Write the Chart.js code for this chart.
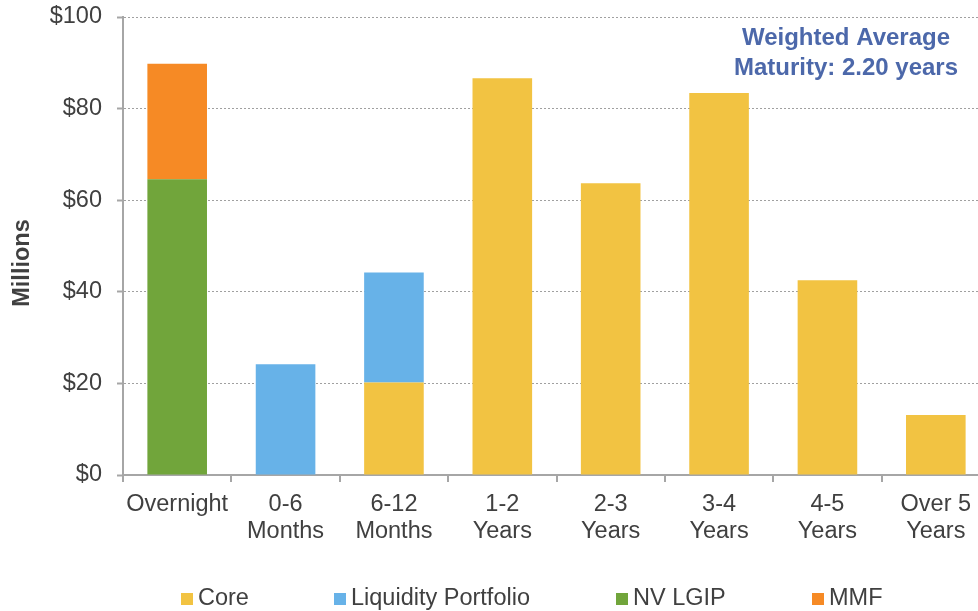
<!DOCTYPE html>
<html>
<head>
<meta charset="utf-8">
<script src="https://cdn.jsdelivr.net/npm/chart.js@4"></script>
<style>
  html, body { margin: 0; padding: 0; background: #fff; overflow: hidden; }
  #frame { width: 978px; height: 611px; overflow: hidden; position: relative; }
  #wrap { width: 992px; height: 611px; }
</style>
</head>
<body>
<div id="frame"><div id="wrap"><canvas id="c" width="992" height="611"></canvas></div></div>
<script>
// Maturity buckets (multi-line axis labels)
const categories = [
  ['Overnight'],
  ['0-6', 'Months'],
  ['6-12', 'Months'],
  ['1-2', 'Years'],
  ['2-3', 'Years'],
  ['3-4', 'Years'],
  ['4-5', 'Years'],
  ['Over 5', 'Years']
];

// Holdings per bucket, $ millions
const core      = [null, null, 20.2, 86.6, 63.7, 83.4, 42.5, 13.1];
const liquidity = [null, 24.2, 24.0, null, null, null, null, null];
const nvLgip    = [64.6, null, null, null, null, null, null, null];
const mmf       = [25.2, null, null, null, null, null, null, null];

const seriesNames = ['Core', 'Liquidity Portfolio', 'NV LGIP', 'MMF'];
const yTicks = [0, 20, 40, 60, 80, 100];
const axisTitle = 'Millions';
const noteLines = ['Weighted Average', 'Maturity: 2.20 years'];

const colors = ['#F2C342', '#67B2E8', '#71A53B', '#F68A25'];
const textColor = '#404040';
const font = 'Liberation Sans, Arial, Helvetica, sans-serif';

// Legend row, annotation box and rotated axis title
const extras = {
  id: 'extras',
  afterDraw(chart) {
    const ctx = chart.ctx;
    ctx.save();
    // legend
    const legendX = [181, 334, 616, 812];
    ctx.font = '23.5px ' + font;
    ctx.textBaseline = 'middle';
    ctx.textAlign = 'left';
    chart.data.datasets.forEach((ds, i) => {
      ctx.fillStyle = ds.backgroundColor;
      ctx.fillRect(legendX[i], 593, 12, 12);
      ctx.fillStyle = textColor;
      ctx.fillText(ds.label, legendX[i] + 17, 599);
    });
    // axis title
    ctx.save();
    ctx.translate(23, 263);
    ctx.rotate(-Math.PI / 2);
    ctx.font = 'bold 23.5px ' + font;
    ctx.textAlign = 'center';
    ctx.textBaseline = 'middle';
    ctx.fillStyle = textColor;
    ctx.fillText(axisTitle, 0, 0);
    ctx.restore();
    // weighted average note
    ctx.font = 'bold 24px ' + font;
    ctx.textAlign = 'center';
    ctx.textBaseline = 'alphabetic';
    ctx.fillStyle = '#4C68AA';
    ctx.fillText(noteLines[0], 846, 45);
    ctx.fillText(noteLines[1], 846, 75);
    ctx.restore();
  }
};

const seriesData = [core, liquidity, nvLgip, mmf];

new Chart(document.getElementById('c'), {
  type: 'bar',
  data: {
    labels: categories,
    datasets: seriesData.map((d, i) => ({
      label: seriesNames[i],
      data: d,
      backgroundColor: colors[i],
      borderWidth: 0,
      categoryPercentage: 1,
      barPercentage: 0.55
    }))
  },
  options: {
    responsive: false,
    animation: false,
    devicePixelRatio: 1,
    layout: { padding: { top: 17, right: 2, left: 0, bottom: 0 } },
    plugins: {
      legend: { display: false },
      tooltip: { enabled: false }
    },
    scales: {
      x: {
        stacked: true,
        offset: true,
        grid: {
          offset: true,
          drawOnChartArea: false,
          drawTicks: true,
          tickLength: 7,
          color: '#A6A6A6',
          lineWidth: 2
        },
        border: { color: '#A6A6A6', width: 2 },
        ticks: {
          color: textColor,
          font: { family: font, size: 23.5, lineHeight: 1.14 },
          padding: 9,
          maxRotation: 0,
          autoSkip: false
        },
        afterFit(scale) {
          scale.height = 136;
          scale.paddingLeft = 0;
          scale.paddingRight = 0;
        }
      },
      y: {
        stacked: true,
        min: 0,
        max: 100,
        afterBuildTicks(scale) { scale.ticks = yTicks.map(v => ({ value: v })); },
        grid: {
          color: '#A0A0A0',
          lineWidth: 1,
          drawTicks: true,
          tickLength: 6,
          tickBorderDash: [],
          tickColor: '#A6A6A6',
          tickWidth: 2
        },
        border: { color: '#A6A6A6', width: 2, dash: [2, 2] },
        ticks: {
          color: textColor,
          font: { family: font, size: 23.5 },
          padding: 15,
          callback: v => '$' + v
        },
        afterFit(scale) {
          scale.width = 123;
          scale.paddingTop = 0;
          scale.paddingBottom = 0;
        }
      }
    }
  },
  plugins: [extras]
});
</script>
</body>
</html>
